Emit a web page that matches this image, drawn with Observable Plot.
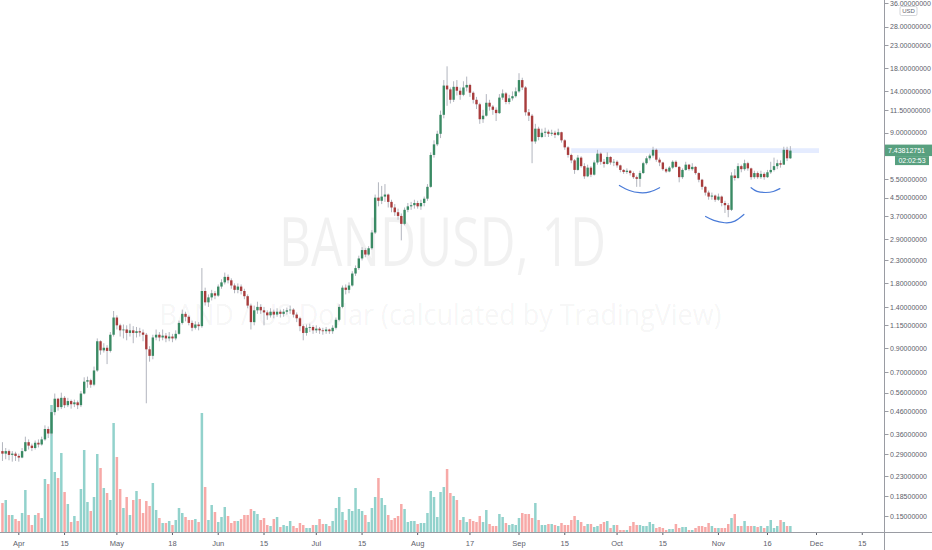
<!DOCTYPE html>
<html><head><meta charset="utf-8">
<script src="https://cdn.jsdelivr.net/npm/d3@7"></script>
<script src="https://cdn.jsdelivr.net/npm/@observablehq/plot@0.6"></script>
<style>
html,body{margin:0;padding:0;background:#fff;}
#chart{position:relative;width:932px;height:550px;overflow:hidden;font-family:"Liberation Sans",Arial,sans-serif;}
#chart svg{position:absolute;left:0;top:0;}
</style></head><body><div id="chart"></div>
<script>
// ---- data (BANDUSD daily, 2020-03-27 .. 2020-11-23) ----
const startDate = "2020-03-27";
const firstOpen = 0.30;
const closes = [
0.292,0.300,0.288,0.292,0.285,0.280,0.300,0.330,0.318,0.310,
0.328,0.322,0.340,0.380,0.362,0.455,0.525,0.480,0.530,0.490,
0.512,0.495,0.505,0.490,0.555,0.630,0.640,0.610,0.710,0.970,
0.880,0.905,0.875,1.040,1.250,1.150,1.090,1.100,1.060,1.090,
1.060,1.080,1.065,1.040,0.890,0.830,1.010,1.040,1.010,1.030,
1.000,1.020,1.000,1.050,1.180,1.300,1.260,1.180,1.120,1.160,
1.140,1.660,1.470,1.550,1.620,1.580,1.740,1.820,1.930,1.860,
1.760,1.680,1.740,1.660,1.570,1.420,1.190,1.350,1.400,1.350,
1.320,1.280,1.330,1.290,1.330,1.300,1.330,1.350,1.360,1.290,
1.240,1.140,1.060,1.120,1.130,1.090,1.110,1.090,1.080,1.100,
1.080,1.120,1.220,1.400,1.720,1.680,1.760,2.000,2.120,2.350,
2.570,2.450,2.620,3.100,4.500,4.350,4.550,4.650,4.300,4.050,
3.850,3.700,3.400,3.950,4.100,4.150,4.250,4.100,4.250,4.450,
5.050,7.100,7.950,8.900,10.90,14.90,14.30,12.80,14.70,14.10,
13.50,14.60,15.00,13.80,12.80,12.20,10.40,10.80,12.40,11.90,
11.50,11.10,13.10,13.70,12.50,13.00,13.30,14.00,15.80,14.60,
11.20,10.80,8.20,9.40,8.60,9.00,9.10,8.90,9.00,8.80,
9.05,8.30,7.70,7.10,6.70,6.05,6.90,6.30,5.65,6.20,
5.75,6.55,7.20,6.60,6.45,6.95,6.55,6.60,6.35,6.05,
5.92,6.00,5.85,5.60,5.50,5.85,6.50,6.85,7.05,7.50,
6.75,6.55,6.10,5.95,6.20,6.60,6.25,5.60,6.05,6.40,
6.10,6.25,5.85,5.45,5.05,4.75,4.55,4.60,4.40,4.55,
4.25,4.15,3.95,5.70,5.55,6.30,6.10,6.50,6.15,5.60,
5.85,5.60,5.80,5.60,5.90,6.05,6.30,6.50,6.40,7.50,
6.85,7.43812751];
const highs = [
0.33,0.31,0.305,0.30,0.298,0.292,0.31,0.35,0.34,0.325,
0.336,0.34,0.35,0.395,0.39,0.47,0.555,0.53,0.56,0.54,
0.53,0.52,0.52,0.515,0.57,0.66,0.665,0.65,0.74,1.00,
0.98,0.95,0.93,1.07,1.34,1.28,1.17,1.16,1.15,1.17,
1.14,1.13,1.12,1.10,1.06,0.92,1.04,1.10,1.07,1.10,
1.06,1.07,1.05,1.09,1.21,1.36,1.33,1.28,1.21,1.20,
1.19,2.12,1.72,1.60,1.68,1.66,1.78,1.88,2.02,1.98,
1.90,1.80,1.80,1.78,1.70,1.60,1.45,1.42,1.48,1.44,
1.40,1.35,1.38,1.36,1.38,1.36,1.37,1.39,1.42,1.38,
1.32,1.26,1.16,1.16,1.17,1.15,1.15,1.13,1.12,1.13,
1.11,1.15,1.25,1.44,1.76,1.78,1.82,2.05,2.18,2.42,
2.65,2.62,2.68,3.18,4.65,5.30,5.10,5.20,4.70,4.40,
4.20,4.00,3.80,4.05,4.25,4.30,4.40,4.35,4.40,4.55,
5.20,7.30,8.30,9.20,11.4,15.8,18.3,14.6,15.6,15.8,
14.6,15.6,16.4,15.2,14.0,13.2,12.4,11.5,13.6,12.8,
12.1,11.8,13.6,14.3,13.9,13.5,14.0,14.6,17.0,16.2,
14.8,11.6,11.0,9.9,9.6,9.4,9.5,9.3,9.3,9.2,
9.4,9.1,8.4,7.8,7.2,6.8,7.1,7.0,6.5,6.4,
6.3,6.7,7.5,7.3,6.8,7.3,7.0,6.8,6.7,6.4,
6.1,6.15,6.05,5.95,5.7,6.0,6.6,7.0,7.2,7.75,
7.6,6.9,6.6,6.2,6.3,6.7,6.7,6.3,6.15,6.6,
6.45,6.5,6.3,5.9,5.5,5.1,4.85,4.75,4.65,4.7,
4.6,4.35,4.25,5.9,6.1,6.5,6.4,6.75,6.6,6.2,
6.0,5.95,6.0,5.9,6.05,6.6,6.9,6.75,6.7,7.75,
7.75,7.8];
const lows = [
0.27,0.275,0.272,0.268,0.27,0.268,0.278,0.298,0.305,0.30,
0.305,0.312,0.318,0.335,0.345,0.355,0.44,0.462,0.47,0.475,
0.48,0.472,0.48,0.47,0.48,0.55,0.59,0.59,0.60,0.70,
0.84,0.86,0.76,0.86,1.02,1.10,1.02,1.00,0.98,1.02,
0.95,1.01,1.02,0.97,0.50,0.78,0.80,0.98,0.97,0.98,
0.96,0.97,0.96,0.98,1.04,1.16,1.20,1.15,1.08,1.10,
1.09,1.12,1.42,1.40,1.50,1.52,1.56,1.70,1.78,1.80,
1.70,1.62,1.62,1.60,1.52,1.38,1.10,1.15,1.30,1.30,
1.15,1.22,1.25,1.24,1.26,1.25,1.26,1.29,1.30,1.25,
1.19,1.08,0.98,1.03,1.07,1.05,1.06,1.05,1.04,1.05,
1.05,1.05,1.10,1.20,1.38,1.60,1.62,1.74,1.95,2.08,
2.30,2.38,2.42,2.58,3.05,4.10,4.20,4.30,4.05,3.85,
3.70,3.55,2.85,3.35,3.85,3.95,4.00,4.00,3.95,4.10,
4.35,5.00,6.90,7.80,8.50,10.5,12.0,12.3,12.5,13.4,
12.8,13.3,14.0,13.2,12.3,11.6,9.9,10.0,10.7,11.4,
10.9,10.2,11.0,12.8,12.2,12.2,12.7,13.1,13.8,14.2,
10.8,10.2,6.5,8.0,8.3,8.5,8.6,8.6,8.7,8.5,
8.7,8.1,7.5,6.9,6.5,5.8,6.0,6.2,5.5,5.6,
5.6,5.7,6.4,6.4,6.2,6.4,6.4,6.3,6.2,5.9,
5.8,5.8,5.7,5.5,5.05,5.05,5.8,6.4,6.7,6.9,
6.6,6.3,6.0,5.85,5.9,6.1,6.2,5.3,5.5,6.0,
6.0,6.0,5.75,5.3,4.9,4.6,4.4,4.4,4.3,4.35,
4.1,3.82,3.65,3.9,5.4,5.5,5.9,6.0,6.0,5.45,
5.5,5.5,5.5,5.45,5.55,5.8,5.95,6.1,6.2,6.4,
6.65,6.8];
const volumes = [
29,32,17,17,13,11,19,42,17,7,
17,19,14,53,48,127,60,54,79,40,
28,10,16,11,43,82,30,21,35,78,
64,44,39,32,109,75,43,24,35,17,
32,41,33,19,31,26,49,22,14,9,
9,11,7,12,24,19,15,12,12,13,
10,119,45,12,27,20,10,15,25,16,
9,11,11,13,17,17,23,21,18,12,
14,7,6,13,15,5,7,6,11,6,
4,9,7,4,4,7,7,13,8,8,
6,11,24,35,20,12,23,21,44,23,
21,17,10,24,35,54,34,27,17,12,
14,16,28,23,10,11,11,8,9,9,
19,41,35,15,40,45,63,39,36,32,
12,15,10,13,11,10,16,10,22,8,
6,6,18,15,9,7,8,7,14,19,
18,18,14,29,12,7,7,8,8,7,
6,9,7,7,12,16,12,10,6,8,
8,5,6,8,10,11,4,7,7,2,
2,2,6,10,7,7,6,6,10,8,
4,5,4,2,3,3,8,4,5,5,
2,2,4,6,6,5,9,6,4,4,
4,4,8,14,18,6,6,11,6,6,
6,5,6,4,6,12,4,6,12,10,
6,6];

// axis ticks
const yTicks = [36,28,23,18,14,11.5,9,5.5,4.5,3.7,2.9,2.3,1.8,1.4,1.15,0.9,0.7,0.56,0.46,0.36,0.29,0.23,0.185,0.15];
const xTickDates = ["2020-04-01","2020-04-15","2020-05-01","2020-05-18","2020-06-01","2020-06-15","2020-07-01","2020-07-15","2020-08-01","2020-08-17","2020-09-01","2020-09-15","2020-10-01","2020-10-15","2020-11-01","2020-11-16","2020-12-01","2020-12-15"];
const xTickLabels = ["Apr","15","May","18","Jun","15","Jul","15","Aug","17","Sep","15","Oct","15","Nov","16","Dec","15"];

// drawings
const bandStart = "2020-09-17T03:00Z", bandEnd = "2020-12-01T22:00Z";
const bandLow = 7.25, bandHigh = 7.63;
const arcNames = ["left","left","left","left","left","head","head","head","head","head","right","right","right","right","right"];
const arcDates = ["2020-10-01T17:00Z","2020-10-04T19:00Z","2020-10-07T22:00Z","2020-10-11T00:00Z","2020-10-14T00:00Z",
  "2020-10-28T02:00Z","2020-10-30T14:00Z","2020-11-02T22:00Z","2020-11-06T00:00Z","2020-11-08T19:00Z",
  "2020-11-11T00:00Z","2020-11-12T19:00Z","2020-11-15T10:00Z","2020-11-17T19:00Z","2020-11-19T19:00Z"];
const arcPrices = [5.15,4.88,4.77,4.81,5.03, 3.70,3.55,3.46,3.52,3.78, 5.03,4.84,4.78,4.83,4.98];

const watermark1 = "BANDUSD, 1D";
const watermark2 = "BAND / US Dollar (calculated by TradingView)";
const currencyLabel = "USD";
const countdownLabel = "02:02:53";

// ---- build ----
const W = 932, H = 550, mR = 48, mB = 18;
const xDomain = [new Date("2020-03-26T09:36:00Z"), new Date("2020-12-21T19:12:00Z")];
const yDomain = [0.1264, 37.17];
const UP = "#3a8a64", DOWN = "#a83c3c", WICK = "#b2b5be", TXT = "#5d606b", LINE = "#9a9ca3";
const FONT = "Liberation Sans, Arial, sans-serif";
const fmt8 = d3.format(".8f");

const t0 = new Date(startDate + "T00:00:00Z");
const candles = closes.map((c, i) => {
  const open = i === 0 ? firstOpen : closes[i - 1];
  return {date: d3.utcDay.offset(t0, i), open, close: c,
    high: Math.max(highs[i], open, c), low: Math.min(lows[i], open, c),
    volume: volumes[i], up: c >= open};
});
const band = [{start: new Date(bandStart), end: new Date(bandEnd), low: bandLow, high: bandHigh}];
const arcs = arcDates.map((d, i) => ({arc: arcNames[i], date: new Date(d), price: arcPrices[i]}));
const tickDates = xTickDates.map(d => new Date(d + "T00:00:00Z"));
const labelMap = new Map(tickDates.map((d, i) => [d.getTime(), xTickLabels[i]]));

const chart = document.getElementById("chart");

const volPlot = Plot.plot({
  width: W, height: H, marginLeft: 0, marginRight: mR, marginTop: 0, marginBottom: mB,
  style: {background: "white"},
  x: {type: "utc", domain: xDomain, axis: null},
  y: {domain: [0, 532], axis: null},
  marks: [
    Plot.text([watermark1], {frameAnchor: "top", lineAnchor: "middle", dy: 244, fontSize: 67,
      fontFamily: "Open Sans", fill: "#000", fillOpacity: 0.055}),
    Plot.text([watermark2], {frameAnchor: "top", lineAnchor: "middle", dy: 315, dx: -2, fontSize: 29,
      fontFamily: "Open Sans", fill: "#000", fillOpacity: 0.055}),
    Plot.ruleX(candles.filter(d => d.up), {x: "date", y1: 0, y2: "volume", stroke: "#26a69a", strokeOpacity: 0.5, strokeWidth: 2.5}),
    Plot.ruleX(candles.filter(d => !d.up), {x: "date", y1: 0, y2: "volume", stroke: "#ef5350", strokeOpacity: 0.5, strokeWidth: 2.5})
  ]
});
d3.select(volPlot).selectAll("text").each(function() {
  if (this.textContent === watermark1) d3.select(this).attr("textLength", 327).attr("lengthAdjust", "spacingAndGlyphs");
  if (this.textContent === watermark2) d3.select(this).attr("textLength", 562).attr("lengthAdjust", "spacingAndGlyphs");
});
chart.appendChild(volPlot);

const pricePlot = Plot.plot({
  width: W, height: H, marginLeft: 0, marginRight: mR, marginTop: 0, marginBottom: mB,
  style: {background: "transparent", fontFamily: FONT, fontSize: "7.5px", color: TXT, overflow: "visible"},
  x: {type: "utc", domain: xDomain},
  y: {type: "log", domain: yDomain, axis: null},
  marks: [
    Plot.rect(band, {x1: "start", x2: "end", y1: "low", y2: "high", fill: "#2962ff", fillOpacity: 0.12}),
    Plot.ruleX(candles, {x: "date", y1: "low", y2: "high", stroke: WICK, strokeWidth: 1}),
    Plot.ruleX(candles.filter(d => d.up), {x: "date", y1: "open", y2: "close", stroke: UP, strokeWidth: 2.4}),
    Plot.ruleX(candles.filter(d => !d.up), {x: "date", y1: "open", y2: "close", stroke: DOWN, strokeWidth: 2.4}),
    Plot.line(arcs, {x: "date", y: "price", z: "arc", curve: "natural", stroke: "#4a7bd8", strokeWidth: 1.2}),
    Plot.text(yTicks, {y: d => d, text: d => fmt8(d), frameAnchor: "right", dx: 5.5, textAnchor: "start",
      lineAnchor: "middle", fontSize: 7, fill: TXT}),
    Plot.axisX(tickDates, {anchor: "bottom", label: null, tickFormat: d => labelMap.get(d.getTime()), tickSize: 3, tickPadding: 5, fontSize: 7.5, color: TXT})
  ]
});
chart.appendChild(pricePlot);

// axis lines, y tick marks, price label, currency box
const xs = pricePlot.scale("x"), ys = pricePlot.scale("y");
const right = xs.range[1];
const baseY = ys.range[0];
const svg = d3.select(pricePlot);
svg.append("line").attr("x1", 0).attr("x2", W).attr("y1", baseY + 0.5).attr("y2", baseY + 0.5).attr("stroke", LINE);
svg.append("line").attr("x1", right + 0.5).attr("x2", right + 0.5).attr("y1", 0).attr("y2", H).attr("stroke", LINE);
svg.append("g").selectAll("line").data(yTicks).join("line")
  .attr("x1", right + 0.5).attr("x2", right + 4.5)
  .attr("y1", d => Math.round(ys.apply(d)) + 0.5).attr("y2", d => Math.round(ys.apply(d)) + 0.5)
  .attr("stroke", LINE);
const last = closes[closes.length - 1];
const yl = ys.apply(last);
const LBL = "#58a07f";
svg.append("rect").attr("x", right + 1).attr("y", yl - 6).attr("width", W - right - 1).attr("height", 11.5).attr("fill", LBL);
svg.append("text").attr("x", right + 4).attr("y", yl).attr("dy", "0.34em").attr("text-anchor", "start").attr("fill", "#fff")
  .attr("font-size", 7).attr("font-family", FONT).text(fmt8(last));
svg.append("rect").attr("x", right + 11).attr("y", yl + 5.5).attr("width", 34).attr("height", 9).attr("fill", LBL);
svg.append("text").attr("x", right + 28).attr("y", yl + 10).attr("dy", "0.34em").attr("text-anchor", "middle").attr("fill", "#fff")
  .attr("font-size", 7).attr("font-family", FONT).text(countdownLabel);
svg.append("rect").attr("x", right + 16).attr("y", 6.5).attr("width", 17).attr("height", 9).attr("rx", 1.5)
  .attr("fill", "#fff").attr("stroke", "#c9cbd1").attr("stroke-width", 0.8);
svg.append("text").attr("x", right + 24.5).attr("y", 11).attr("dy", "0.34em").attr("text-anchor", "middle")
  .attr("fill", TXT).attr("font-size", 6).attr("font-family", FONT).text(currencyLabel);
</script></body></html>
